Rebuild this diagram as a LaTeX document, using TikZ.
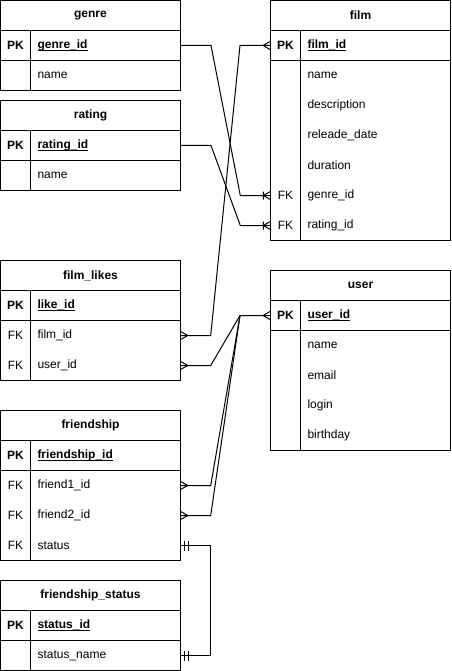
\documentclass[tikz,border=0pt]{standalone}
\usepackage{fontspec}
\setmainfont{Liberation Sans}
\usetikzlibrary{positioning}
\newcommand{\pkname}[1]{\underline{\smash{#1}}\vphantom{#1}}
\tikzset{
    tabtitle/.style = {rectangle, draw=black, line width=1pt, minimum width=180pt, minimum height=30pt, inner sep=0pt, font=\bfseries},
    keycell/.style = {rectangle, minimum width=30pt, minimum height=30pt, inner sep=0pt},
    fieldcell/.style = {rectangle, minimum height=30pt, text width=136pt, inner xsep=7pt, inner ysep=0pt, align=left},
    pkkey/.style = {keycell, draw=black, line width=1pt, font=\bfseries},
    pkfield/.style = {fieldcell, draw=black, line width=1pt, font=\bfseries},
    tabframe/.style = {draw=black, line width=1pt},
    rel/.style = {draw=black, line width=1pt},
    pics/many/.style = {code={\draw[rel] (-7,0) -- (0,-4) (-7,0) -- (0,4);}}, % crow foot
    pics/onemany/.style = {code={\draw[rel] (-7,0) -- (0,-4) (-7,0) -- (0,4) (-7,-4) -- (-7,4);}},
    pics/mandone/.style = {code={\draw[rel] (-4,-5) -- (-4,5) (-8,-5) -- (-8,5);}},
    every picture/.style={font issue=\fontsize{12}{14}},
    font issue/.style={execute at begin picture={#1\selectfont}}
}
\begin{document}
\begin{tikzpicture}[x=1pt,y=-1pt]
\path[use as bounding box,fill=white] (-0.5,-0.5) rectangle (450.5,670.5);
% genre
\node[tabtitle] at (90,15) (genre) {genre};
\node[pkkey] at (15,45) (genreidk) {PK};
\node[pkfield] at (105,45) (genreid) {\pkname{genre\_id}};
\node[keycell] at (15,75) (genrenamek) {};
\node[fieldcell] at (105,75) (genrename) {name};
\draw[tabframe] (genrenamek.north west) rectangle (genrename.south east);
\draw[tabframe] (genrenamek.north east) -- (genrenamek.south east);
% rating
\node[tabtitle] at (90,115) (rating) {rating};
\node[pkkey] at (15,145) (ratingidk) {PK};
\node[pkfield] at (105,145) (ratingid) {\pkname{rating\_id}};
\node[keycell] at (15,175) (ratingnamek) {};
\node[fieldcell] at (105,175) (ratingname) {name};
\draw[tabframe] (ratingnamek.north west) rectangle (ratingname.south east);
\draw[tabframe] (ratingnamek.north east) -- (ratingnamek.south east);
% film_likes
\node[tabtitle] at (90,275) (likes) {film\_likes};
\node[pkkey] at (15,305) (likeidk) {PK};
\node[pkfield] at (105,305) (likeid) {\pkname{like\_id}};
\node[keycell] at (15,335) (likefilmk) {FK};
\node[fieldcell] at (105,335) (likefilm) {film\_id};
\node[keycell] at (15,365) (likeuserk) {FK};
\node[fieldcell] at (105,365) (likeuser) {user\_id};
\draw[tabframe] (likefilmk.north west) rectangle (likeuser.south east);
\draw[tabframe] (likefilmk.north east) -- (likeuserk.south east);
% friendship
\node[tabtitle] at (90,425) (friendship) {friendship};
\node[pkkey] at (15,455) (friendidk) {PK};
\node[pkfield] at (105,455) (friendid) {\pkname{friendship\_id}};
\node[keycell] at (15,485) (friendak) {FK};
\node[fieldcell] at (105,485) (frienda) {friend1\_id};
\node[keycell] at (15,515) (friendbk) {FK};
\node[fieldcell] at (105,515) (friendb) {friend2\_id};
\node[keycell] at (15,545) (fstatusk) {FK};
\node[fieldcell] at (105,545) (fstatus) {status};
\draw[tabframe] (friendak.north west) rectangle (fstatus.south east);
\draw[tabframe] (friendak.north east) -- (fstatusk.south east);
% friendship_status
\node[tabtitle] at (90,595) (status) {friendship\_status};
\node[pkkey] at (15,625) (statusidk) {PK};
\node[pkfield] at (105,625) (statusid) {\pkname{status\_id}};
\node[keycell] at (15,655) (statusnamek) {};
\node[fieldcell] at (105,655) (statusname) {status\_name};
\draw[tabframe] (statusnamek.north west) rectangle (statusname.south east);
\draw[tabframe] (statusnamek.north east) -- (statusnamek.south east);
% film
\node[tabtitle] at (360,15) (film) {film};
\node[pkkey] at (285,45) (filmidk) {PK};
\node[pkfield] at (375,45) (filmid) {\pkname{film\_id}};
\node[keycell] at (285,75) (filmnamek) {};
\node[fieldcell] at (375,75) (filmname) {name};
\node[fieldcell] at (375,105) (filmdesc) {description};
\node[fieldcell] at (375,135) (filmdate) {releade\_date};
\node[fieldcell] at (375,165) (filmdur) {duration};
\node[keycell] at (285,195) (filmgenrek) {FK};
\node[fieldcell] at (375,195) (filmgenre) {genre\_id};
\node[keycell] at (285,225) (filmratingk) {FK};
\node[fieldcell] at (375,225) (filmrating) {rating\_id};
\draw[tabframe] (filmnamek.north west) rectangle (filmrating.south east);
\draw[tabframe] (filmnamek.north east) -- (filmratingk.south east);
% user
\node[tabtitle] at (360,285) (user) {user};
\node[pkkey] at (285,315) (useridk) {PK};
\node[pkfield] at (375,315) (userid) {\pkname{user\_id}};
\node[keycell] at (285,345) (usernamek) {};
\node[fieldcell] at (375,345) (username) {name};
\node[fieldcell] at (375,375) (usermail) {email};
\node[fieldcell] at (375,405) (userlogin) {login};
\node[keycell] at (285,435) (userbirthk) {};
\node[fieldcell] at (375,435) (userbirth) {birthday};
\draw[tabframe] (usernamek.north west) rectangle (userbirth.south east);
\draw[tabframe] (usernamek.north east) -- (userbirthk.south east);
%
\draw[rel] (genreid.east) -- ++(30,0) -- ([xshift=-30pt]filmgenrek.west) -- (filmgenrek.west);
\pic at (filmgenrek.west) {onemany};
\draw[rel] (ratingid.east) -- ++(30,0) -- ([xshift=-30pt]filmratingk.west) -- (filmratingk.west);
\pic at (filmratingk.west) {onemany};
\draw[rel] (likefilm.east) -- ++(30,0) -- ([xshift=-30pt]filmidk.west) -- (filmidk.west);
\pic[rotate=180] at (likefilm.east) {many};
\pic at (filmidk.west) {many};
\draw[rel] (likeuser.east) -- ++(30,0) -- ([xshift=-30pt]useridk.west) -- (useridk.west);
\pic[rotate=180] at (likeuser.east) {many};
\pic at (useridk.west) {many};
\draw[rel] (frienda.east) -- ++(30,0) -- ([xshift=-30pt]useridk.west);
\pic[rotate=180] at (frienda.east) {many};
\draw[rel] (friendb.east) -- ++(30,0) -- ([xshift=-30pt]useridk.west);
\pic[rotate=180] at (friendb.east) {many};
\draw[rel] (fstatus.east) -- ++(30,0) |- (statusname.east);
\pic[rotate=180] at (fstatus.east) {mandone};
\pic[rotate=180] at (statusname.east) {mandone};
\end{tikzpicture}
\end{document}
